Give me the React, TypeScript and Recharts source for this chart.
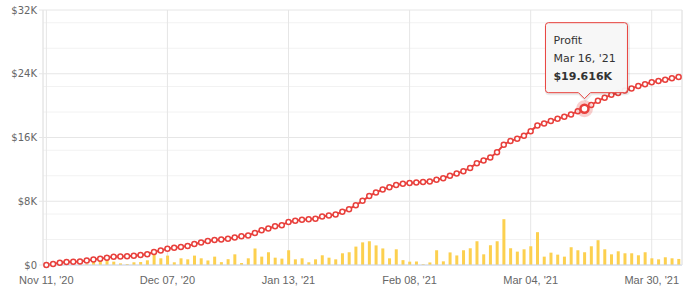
import React from 'react';
import { ComposedChart, Bar, Line, XAxis, YAxis, CartesianGrid } from 'recharts';

const dates = [
  "Nov 11, '20", "Nov 12, '20", "Nov 13, '20", "Nov 16, '20", "Nov 17, '20", "Nov 18, '20", "Nov 19, '20", "Nov 20, '20",
  "Nov 23, '20", "Nov 24, '20", "Nov 25, '20", "Nov 26, '20", "Nov 27, '20", "Nov 30, '20", "Dec 01, '20", "Dec 02, '20",
  "Dec 03, '20", "Dec 04, '20", "Dec 07, '20", "Dec 08, '20", "Dec 09, '20", "Dec 10, '20", "Dec 11, '20", "Dec 14, '20",
  "Dec 15, '20", "Dec 16, '20", "Dec 17, '20", "Dec 18, '20", "Dec 21, '20", "Jan 04, '21", "Jan 05, '21", "Jan 06, '21",
  "Jan 07, '21", "Jan 08, '21", "Jan 11, '21", "Jan 12, '21", "Jan 13, '21", "Jan 14, '21", "Jan 15, '21", "Jan 18, '21",
  "Jan 19, '21", "Jan 20, '21", "Jan 21, '21", "Jan 22, '21", "Jan 25, '21", "Jan 26, '21", "Jan 27, '21", "Jan 28, '21",
  "Jan 29, '21", "Feb 01, '21", "Feb 02, '21", "Feb 03, '21", "Feb 04, '21", "Feb 05, '21", "Feb 08, '21", "Feb 09, '21",
  "Feb 10, '21", "Feb 11, '21", "Feb 12, '21", "Feb 15, '21", "Feb 16, '21", "Feb 17, '21", "Feb 18, '21", "Feb 19, '21",
  "Feb 22, '21", "Feb 23, '21", "Feb 24, '21", "Feb 25, '21", "Feb 26, '21", "Mar 01, '21", "Mar 02, '21", "Mar 03, '21",
  "Mar 04, '21", "Mar 05, '21", "Mar 08, '21", "Mar 09, '21", "Mar 10, '21", "Mar 11, '21", "Mar 12, '21", "Mar 15, '21",
  "Mar 16, '21", "Mar 17, '21", "Mar 18, '21", "Mar 19, '21", "Mar 22, '21", "Mar 23, '21", "Mar 24, '21", "Mar 25, '21",
  "Mar 26, '21", "Mar 29, '21", "Mar 30, '21", "Mar 31, '21", "Apr 01, '21", "Apr 02, '21", "Apr 05, '21",
];

const profit = [
  0, 130, 270, 380, 420, 440, 550, 700, 800, 920, 1050, 1080, 1100, 1150, 1260, 1350,
  1640, 1830, 2030, 2160, 2270, 2400, 2630, 2820, 3000, 3150, 3190, 3300, 3440, 3610, 3700, 4030,
  4370, 4580, 4870, 5000, 5400, 5540, 5670, 5750, 5800, 6090, 6200, 6340, 6680, 7000, 7500, 8050,
  8650, 9100, 9490, 9760, 10030, 10200, 10290, 10350, 10420, 10480, 10700, 10880, 11200, 11480, 11780, 12180,
  12770, 13120, 13500, 14150, 15100, 15570, 15850, 16230, 16800, 17510, 17770, 18060, 18350, 18600, 18900, 19300,
  19616, 20080, 20600, 21000, 21350, 21600, 21900, 22150, 22450, 22680, 22930, 23100, 23250, 23420, 23600,
];

const daily = [
  0, 0, 0, 30, 30, 50, 150, 450, 630, 710, 420, 200, 130, 340, 380, 590,
  1340, 840, 1180, 340, 840, 710, 1180, 840, 570, 1050, 360, 730, 1340, 250, 840, 2080,
  1050, 1600, 920, 800, 1850, 710, 840, 340, 710, 1220, 920, 710, 1470, 1600, 2310, 2840,
  2980, 2460, 2080, 840, 1970, 610, 420, 440, 100, 320, 1850, 460, 1580, 1200, 1850, 2100,
  2980, 1340, 2480, 2980, 5750, 2100, 1680, 1970, 2350, 4120, 1050, 1550, 1300, 1050, 2230, 1850,
  1600, 2350, 3110, 1970, 1340, 1720, 1470, 1470, 1220, 1600, 840, 710, 970, 840, 760,
];

const yTicks = [0, 8000, 16000, 24000, 32000];
const minorTicks = [
  1600, 3200, 4800, 6400, 9600, 11200, 12800, 14400,
  17600, 19200, 20800, 22400, 25600, 27200, 28800, 30400,
];
const highlightDate = "Mar 16, '21";
const seriesName = 'Profit';

const data = dates.map((d, i) => ({ date: d, profit: profit[i], daily: daily[i] }));

const RED = '#e8403c';
const YELLOW = '#fcd04f';

const fmtY = (v: number) => (v === 0 ? '$0' : `$${v / 1000}K`);

const renderCallout = (props: any) => {
  const { cx, cy, payload, index } = props;
  if (!payload || payload.date !== highlightDate) return <g key={`c${index}`} />;
  const w = 82;
  const h = 70;
  const left = cx - 39;
  const top = cy - 86;
  const right = left + w;
  const bottom = top + h;
  const r = 3;
  const tipY = cy - 10;
  const path = `M${left + r},${top} H${right - r} Q${right},${top} ${right},${top + r} V${bottom - r} Q${right},${bottom} ${right - r},${bottom} H${cx + 6} L${cx},${tipY} L${cx - 6},${bottom} H${left + r} Q${left},${bottom} ${left},${bottom - r} V${top + r} Q${left},${top} ${left + r},${top} Z`;
  const font = { fontFamily: 'DejaVu Sans', fontSize: 11 };
  return (
    <g key={`c${index}`}>
      <circle cx={cx} cy={cy} r={8.5} fill="rgba(232,64,60,0.25)" />
      <circle cx={cx} cy={cy} r={4} fill="#fff" stroke={RED} strokeWidth={2.5} />
      <path d={path} transform="translate(1,1)" fill="none" stroke="rgba(0,0,0,0.08)" strokeWidth={3} />
      <path d={path} fill="rgba(247,247,247,0.95)" stroke={RED} strokeWidth={1} />
      <text x={left + 8} y={top + 21} fill="#333" style={font}>{seriesName}</text>
      <text x={left + 8} y={top + 39} fill="#333" style={font}>{payload.date}</text>
      <text x={left + 8} y={top + 57.5} fill="#333" style={{ ...font, fontWeight: 'bold' }}>
        {`$${(payload.profit / 1000).toFixed(3)}K`}
      </text>
    </g>
  );
};

export default function App() {
  return (
    <div style={{ position: 'absolute', left: 0, top: 0, width: 688, height: 294, background: '#fff' }}>
      <ComposedChart
        width={688}
        height={294}
        data={data}
        margin={{ top: 10, right: 0, bottom: 0, left: 0 }}
      >
        <CartesianGrid yAxisId="main" vertical={false} horizontalValues={minorTicks} stroke="#f2f2f2" />
        <CartesianGrid yAxisId="main" stroke="#e6e6e6" />
        <XAxis
          dataKey="date"
          interval={17}
          tickLine={false}
          tickSize={8}
          tickMargin={3}
          axisLine={{ stroke: '#ccd6eb' }}
          height={29}
          tick={{ fill: '#666', fontSize: 11, fontFamily: 'Liberation Sans' }}
        />
        <YAxis
          yAxisId="main"
          domain={[0, 32000]}
          ticks={yTicks}
          tickFormatter={fmtY}
          width={43}
          tickSize={4}
          tickMargin={2}
          axisLine={{ stroke: '#e6e6e6' }}
          tickLine={{ stroke: '#e6e6e6' }}
          tick={{ fill: '#666', fontSize: 10, fontFamily: 'DejaVu Sans' }}
        />
        <YAxis
          yAxisId="border"
          orientation="right"
          width={6}
          domain={[0, 32000]}
          tick={false}
          tickLine={false}
          axisLine={{ stroke: '#e6e6e6' }}
        />
        <Bar yAxisId="main" dataKey="daily" fill={YELLOW} barSize={3} isAnimationActive={false} />
        <Line
          yAxisId="main"
          dataKey="profit"
          stroke={RED}
          strokeWidth={2}
          dot={{ r: 2.5, fill: '#fff', stroke: RED, strokeWidth: 1.5 }}
          activeDot={false}
          isAnimationActive={false}
        />
        <Line
          yAxisId="main"
          dataKey="profit"
          stroke="none"
          dot={renderCallout}
          activeDot={false}
          legendType="none"
          isAnimationActive={false}
        />
      </ComposedChart>
    </div>
  );
}
